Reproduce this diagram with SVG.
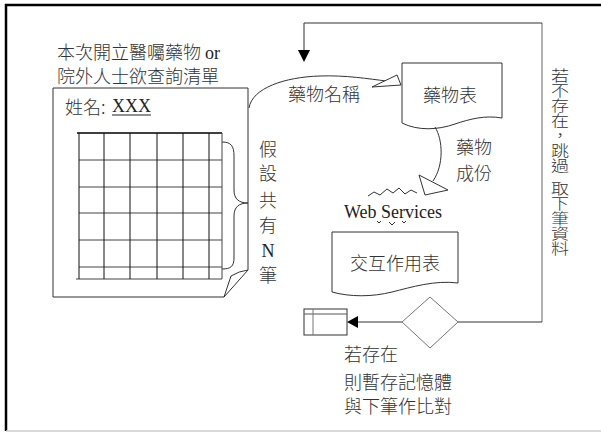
<svg xmlns="http://www.w3.org/2000/svg" width="601" height="432" viewBox="0 0 601 432">
<style>
.cjk{font-family:"Noto Sans CJK TC","Noto Sans CJK SC",sans-serif;font-size:18px;font-weight:300;fill:#333}
.ser{font-family:"Liberation Serif",serif;font-size:18px;font-weight:400;fill:#222}
.vt{font-family:"Noto Sans CJK TC","Noto Sans CJK SC",sans-serif;font-size:15px;font-weight:300;fill:#333;writing-mode:vertical-rl}
.ln{fill:none;stroke:#333;stroke-width:1}
.gl{fill:none;stroke:#444;stroke-width:1}
.hd{fill:#fff;stroke:#333;stroke-width:1}
</style>
<rect width="601" height="432" fill="#fff"/>
<g id="frame">
<line x1="5" y1="5" x2="601" y2="5" stroke="#000" stroke-width="2.5"/>
<line x1="6" y1="4" x2="6" y2="431" stroke="#000" stroke-width="2.5"/>
<line x1="6" y1="431" x2="601" y2="431" stroke="#ccc" stroke-width="1.5"/>
</g>
<g id="list-title">
<text class="cjk" x="57" y="58.5" font-size="17.5">本次開立醫囑藥物 <tspan font-family="Liberation Serif" font-weight="400" fill="#222" font-size="18">or</tspan></text>
<text class="cjk" x="57" y="83" font-size="17.5">院外人士欲查詢清單</text>
</g>
<g id="list-page">
<path class="ln" d="M53,88 H248 V270 L224,297 H53 Z" stroke="#444"/>
<path class="ln" d="M224,297 L231,276 Q239,271 248,270"/>
<text class="cjk" x="65" y="114">姓名:</text>
<text class="ser" x="112" y="112">XXX</text>
<line x1="112" y1="115" x2="151" y2="115" stroke="#222" stroke-width="1"/>
<g class="gl">
<line x1="77" y1="133" x2="222" y2="133" stroke="#000" stroke-width="1.5"/>
<line x1="79" y1="160" x2="222" y2="160"/>
<line x1="79" y1="187" x2="222" y2="187"/>
<line x1="79" y1="213" x2="222" y2="213"/>
<line x1="79" y1="240" x2="222" y2="240"/>
<line x1="79" y1="267" x2="222" y2="267"/>
<line x1="76" y1="279" x2="222" y2="279"/>
<line x1="79" y1="133" x2="79" y2="279" stroke="#111"/>
<line x1="104" y1="133" x2="104" y2="279" stroke="#111"/>
<line x1="130" y1="133" x2="130" y2="279" stroke="#111"/>
<line x1="157" y1="133" x2="157" y2="279" stroke="#111"/>
<line x1="183" y1="133" x2="183" y2="279" stroke="#111"/>
<line x1="209" y1="133" x2="209" y2="279" stroke="#111"/>
<line x1="222" y1="133" x2="222" y2="279"/>
</g>
<path class="ln" d="M222,142 C231,142 234,146 234,156 V190 C234,199 239,203 248,203 C239,203 234,207 234,216 V258 C234,266 231,269 222,269"/>
</g>
<g id="count-label">
<text class="cjk" x="268" y="156" text-anchor="middle">假</text>
<text class="cjk" x="268" y="180" text-anchor="middle">設</text>
<text class="cjk" x="268" y="207" text-anchor="middle">共</text>
<text class="cjk" x="268" y="232" text-anchor="middle">有</text>
<text class="ser" x="268" y="257" text-anchor="middle">N</text>
<text class="cjk" x="268" y="282" text-anchor="middle">筆</text>
</g>
<g id="drug-table">
<path class="ln" d="M402,63 H502 V118 C485,115 470,119 455,124 C438,130 418,131 402,123 Z"/>
<text class="cjk" x="450" y="102" text-anchor="middle">藥物表</text>
</g>
<g id="web-services">
<path class="ln" d="M368,196 L374,192 L380,195 L387,189 L393,193 L399,188 L405,194 L411,190 L417,193"/>
<text class="ser" x="344" y="218">Web Services</text>
<path class="ln" stroke-width="0.8" d="M377,221 l2,2 l2,-2 M389,222 l3,3 l3,-3 M402,221 l2,2 l2,-2"/>
</g>
<g id="interaction-table">
<path class="ln" d="M332,232 H458 V283 C435,280 412,287 392,292 C372,297 350,297 332,292 Z"/>
<text class="cjk" x="395" y="270" text-anchor="middle">交互作用表</text>
</g>
<g id="decision">
<polygon points="402,322 430,297 458,322 430,348" fill="#fff" stroke="#777" stroke-width="1"/>
</g>
<g id="memory">
<rect x="304" y="309" width="43" height="26" fill="#fff" stroke="#333" stroke-width="1"/>
<line x1="304" y1="314" x2="347" y2="314" stroke="#555"/>
<line x1="313" y1="309" x2="313" y2="335" stroke="#777"/>
</g>
<g id="connectors">
<path class="ln" d="M249,108 C252,88 285,77 320,76 C345,75 370,79 386,81"/>
<polygon class="hd" points="372,87 397,75 401,85"/>
<text class="cjk" x="288" y="101">藥物名稱</text>
<path class="ln" d="M435,127 C443,140 444,165 433,181"/>
<polygon class="hd" points="419,175 448,190 425,195"/>
<text class="cjk" x="456" y="154">藥物</text>
<text class="cjk" x="456" y="180">成份</text>
<line x1="542" y1="23" x2="542" y2="322" stroke="#888" stroke-width="1.3"/>
<polyline class="ln" points="542,23 304,23 304,52"/>
<polygon points="298,50 310,50 304,62" fill="#000"/>
<line x1="542" y1="322" x2="458" y2="322" stroke="#333"/>
<line x1="402" y1="322" x2="356" y2="322" stroke="#333"/>
<polygon points="347,322 358,316 358,328" fill="#000"/>
</g>
<g id="skip-label">
<g transform="translate(560,0) scale(1.2,1)">
<text class="vt" x="0" y="67.5">若不存在，跳過</text>
<text class="vt" x="0" y="180.5">取下筆資料</text>
</g>
</g>
<g id="exists-label">
<text class="cjk" x="344" y="361">若存在</text>
<text class="cjk" x="344" y="389">則暫存記憶體</text>
<text class="cjk" x="344" y="413">與下筆作比對</text>
</g>
</svg>
